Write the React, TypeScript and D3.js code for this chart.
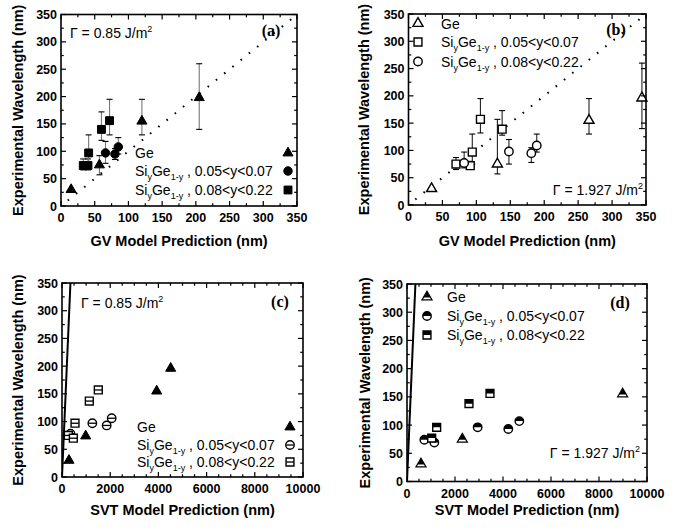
import React from "react";
import * as d3 from "d3";

// ---------- data ----------
const yTickValues = [0, 50, 100, 150, 200, 250, 300, 350];
const gvTickValues = [0, 50, 100, 150, 200, 250, 300, 350];
const svtTickValues = [0, 2000, 4000, 6000, 8000, 10000];

const rangeLow = "0.05<y<0.07";
const rangeHigh = "0.08<y<0.22";
const gammaLow = "0.85";
const gammaHigh = "1.927";

// diagonal (experiment = prediction)
const diagDottedX = [10, 350];
const diagDottedY = [10, 350];
const diagSolidX = [0, 350];
const diagSolidY = [0, 350];

// Panel (a): GV model, Γ = 0.85
const aGeX = [15, 57, 120, 205];
const aGeY = [30, 75, 155, 198];
const aGeLo = [30, 57, 130, 140];
const aGeHi = [30, 92, 195, 260];
const aLowX = [66, 80, 85];
const aLowY = [97, 95, 108];
const aLowLo = [78, 85, 95];
const aLowHi = [118, 105, 125];
const aHighX = [33, 40, 41, 60, 72];
const aHighY = [74, 74, 97, 140, 156];
const aHighLo = [66, 66, 75, 120, 130];
const aHighHi = [86, 86, 130, 172, 195];

// Panel (b): GV model, Γ = 1.927
const bGeX = [34, 131, 266, 344];
const bGeY = [30, 75, 155, 196];
const bGeLo = [30, 57, 130, 140];
const bGeHi = [30, 157, 195, 260];
const bSqX = [70, 91, 94, 106, 138];
const bSqY = [75, 72, 97, 157, 139];
const bSqLo = [65, 66, 75, 132, 128];
const bSqHi = [87, 80, 130, 195, 173];
const bCirX = [82, 148, 181, 189];
const bCirY = [77, 98, 95, 109];
const bCirLo = [68, 75, 78, 97];
const bCirHi = [97, 120, 105, 130];

// Panel (c): SVT model, Γ = 0.85
const cGeX = [290, 983, 3929, 4510];
const cGeY = [30, 74, 155, 196];
const cLowX = [350, 1259, 1853, 2061];
const cLowY = [78, 97, 93, 106];
const cHighX = [262, 470, 540, 1133, 1506];
const cHighY = [75, 70, 97, 137, 157];

// Panel (d): SVT model, Γ = 1.927
const dGeX = [583, 2305, 8986];
const dGeY = [31, 75, 155];
const dLowX = [722, 1139, 2944, 4221, 4680];
const dLowY = [74, 69, 96, 93, 107];
const dHighX = [1028, 1236, 2583, 3458];
const dHighY = [77, 96, 138, 156];

// ---------- rendering ----------
const FONT = "'Liberation Sans', Arial, Helvetica, sans-serif";
const SERIF = "'Liberation Serif', 'Times New Roman', serif";

type Shape = "triangle" | "circle" | "square";
type Style = "filled" | "open" | "bar" | "half" | "tri";

interface Series {
  x: number[];
  y: number[];
  lo?: number[];
  hi?: number[];
  shape: Shape;
  style: Style;
}

const symbolSize: Record<Shape, number> = { triangle: 44, circle: 56, square: 62 };
const symbolType: Record<Shape, d3.SymbolType> = {
  triangle: d3.symbolTriangle,
  circle: d3.symbolCircle,
  square: d3.symbolSquare,
};

function Marker({ shape, style, cx, cy }: { shape: Shape; style: Style; cx: number; cy: number }) {
  const d = d3.symbol().type(symbolType[shape]).size(symbolSize[shape])() as string;
  const tf = `translate(${cx},${cy})`;
  if (style === "filled") {
    return <path d={d} transform={tf} fill="#000" stroke="#000" strokeWidth={1} />;
  }
  if (style === "open") {
    return <path d={d} transform={tf} fill="#fff" stroke="#000" strokeWidth={1.4} />;
  }
  const half = Math.sqrt(symbolSize[shape]) / 2;
  if (style === "bar") {
    return (
      <g transform={tf}>
        <path d={d} fill="#fff" stroke="#000" strokeWidth={1.4} />
        <line x1={-half} x2={half} y1={0} y2={0} stroke="#000" strokeWidth={1.3} />
      </g>
    );
  }
  if (style === "tri") {
    return (
      <g transform={tf}>
        <path d={d} fill="#fff" stroke="#000" strokeWidth={1.2} />
        <path d={d} fill="#000" clipPath="url(#clipTop70)" />
      </g>
    );
  }
  // half: top half filled
  return (
    <g transform={tf}>
      <path d={d} fill="#fff" stroke="#000" strokeWidth={1.4} />
      <path d={d} fill="#000" clipPath="url(#clipTopHalf)" />
    </g>
  );
}

function SiGe({ x, y, range }: { x: number; y: number; range: string }) {
  return (
    <text x={x} y={y} fontFamily={FONT} fontSize={14}>
      Si
      <tspan dy={4} fontSize={9}>y</tspan>
      <tspan dy={-4}>Ge</tspan>
      <tspan dy={4} fontSize={9}>1-y</tspan>
      <tspan dy={-4}>{" , " + range}</tspan>
    </text>
  );
}

function Gamma({ x, y, value, anchor }: { x: number; y: number; value: string; anchor: "start" | "end" }) {
  return (
    <text x={x} y={y} fontFamily={FONT} fontSize={14} textAnchor={anchor}>
      {"Γ = " + value + " J/m"}
      <tspan dy={-6} fontSize={9}>2</tspan>
    </text>
  );
}

interface LegendRow {
  label: "ge" | "low" | "high";
  shape: Shape;
  style: Style;
}

interface PanelProps {
  box: { left: number; right: number; top: number; bottom: number };
  xDomain: [number, number];
  xTicks: number[];
  xMinorStep: number;
  xTitle: string;
  yTitleX: number;
  xTitleY: number;
  series: Series[];
  diag: { x: number[]; y: number[]; dotted: boolean };
  legend: { symX: number; textX: number; rows: number[]; items: LegendRow[] };
  gamma: { x: number; y: number; value: string; anchor: "start" | "end" };
  letter: { x: number; y: number; text: string };
  errColor: string;
}

function Panel(p: PanelProps) {
  const { box } = p;
  const x = d3.scaleLinear().domain(p.xDomain).range([box.left, box.right]);
  const y = d3.scaleLinear().domain([0, 350]).range([box.bottom, box.top]);
  const xMinor = d3.range(p.xDomain[0], p.xDomain[1] + 1e-6, p.xMinorStep);
  const yMinor = d3.range(0, 350.001, 25);
  const line = d3.line<number>().x((_, i) => x(p.diag.x[i])).y((_, i) => y(p.diag.y[i]));
  const fmt = d3.format("d");
  const M = 5, m = 2.8;
  const yTitleY = (box.top + box.bottom) / 2;
  const xTitleX = (box.left + box.right) / 2;

  return (
    <g>
      <defs>
        <clipPath id={"plot" + p.letter.text}>
          <rect x={box.left} y={box.top} width={box.right - box.left} height={box.bottom - box.top} />
        </clipPath>
      </defs>
      <path
        d={line(p.diag.x) as string}
        fill="none"
        stroke="#000"
        strokeWidth={p.diag.dotted ? 2 : 2}
        strokeDasharray={p.diag.dotted ? "1.6 9" : undefined}
        clipPath={`url(#plot${p.letter.text})`}
      />
      {p.series.map((s, si) =>
        s.lo
          ? s.x.map((xv, i) => {
              const lo = s.lo![i], hi = s.hi![i];
              if (hi - lo < 1) return null;
              const px = x(xv);
              return (
                <g key={`e${si}-${i}`} stroke={p.errColor} strokeWidth={1.1}>
                  <line x1={px} x2={px} y1={y(lo)} y2={y(hi)} />
                  <line x1={px - 3} x2={px + 3} y1={y(lo)} y2={y(lo)} stroke="#000" />
                  <line x1={px - 3} x2={px + 3} y1={y(hi)} y2={y(hi)} stroke="#000" />
                </g>
              );
            })
          : null
      )}
      {p.series.map((s, si) =>
        s.x.map((xv, i) => <Marker key={`m${si}-${i}`} shape={s.shape} style={s.style} cx={x(xv)} cy={y(s.y[i])} />)
      )}
      <rect
        x={box.left}
        y={box.top}
        width={box.right - box.left}
        height={box.bottom - box.top}
        fill="none"
        stroke="#000"
        strokeWidth={1.6}
      />
      {/* ticks */}
      <g stroke="#000" strokeWidth={1.2}>
        {xMinor.map((v) => {
          const major = p.xTicks.includes(v);
          const L = major ? M : m;
          return (
            <g key={"xt" + v}>
              <line x1={x(v)} x2={x(v)} y1={box.bottom} y2={box.bottom - L} />
              <line x1={x(v)} x2={x(v)} y1={box.top} y2={box.top + L} />
            </g>
          );
        })}
        {yMinor.map((v) => {
          const major = yTickValues.includes(v);
          const L = major ? M : m;
          return (
            <g key={"yt" + v}>
              <line x1={box.left} x2={box.left + L} y1={y(v)} y2={y(v)} />
              <line x1={box.right} x2={box.right - L} y1={y(v)} y2={y(v)} />
            </g>
          );
        })}
      </g>
      {yTickValues.map((v) => (
        <text key={"yl" + v} x={box.left - 4} y={y(v) + 4.5} textAnchor="end" fontFamily={FONT} fontSize={12.5} fontWeight="bold">
          {fmt(v)}
        </text>
      ))}
      {p.xTicks.map((v) => (
        <text key={"xl" + v} x={x(v)} y={box.bottom + 16} textAnchor="middle" fontFamily={FONT} fontSize={12.5} fontWeight="bold">
          {fmt(v)}
        </text>
      ))}
      <text x={xTitleX} y={p.xTitleY} textAnchor="middle" fontFamily={FONT} fontSize={14.5} fontWeight="bold">
        {p.xTitle}
      </text>
      <text
        transform={`translate(${p.yTitleX},${yTitleY}) rotate(-90)`}
        textAnchor="middle"
        dy={5}
        fontFamily={FONT}
        fontSize={14.5}
        fontWeight="bold"
      >
        Experimental Wavelength (nm)
      </text>
      {/* legend */}
      {p.legend.items.map((it, i) => (
        <g key={"lg" + i}>
          <Marker shape={it.shape} style={it.style} cx={p.legend.symX} cy={p.legend.rows[i]} />
          {it.label === "ge" ? (
            <text x={p.legend.textX} y={p.legend.rows[i] + 5} fontFamily={FONT} fontSize={14}>
              Ge
            </text>
          ) : (
            <SiGe x={p.legend.textX} y={p.legend.rows[i] + 5} range={it.label === "low" ? rangeLow : rangeHigh} />
          )}
        </g>
      ))}
      <Gamma {...p.gamma} />
      <text x={p.letter.x} y={p.letter.y} textAnchor="middle" fontFamily={SERIF} fontWeight="bold" fontSize={16}>
        {"(" + p.letter.text + ")"}
      </text>
    </g>
  );
}

export default function App() {
  return (
    <div style={{ position: "absolute", left: 0, top: 0 }}>
      <svg width={689} height={529} style={{ display: "block", background: "#fff" }}>
        <defs>
          <clipPath id="clipTopHalf" clipPathUnits="objectBoundingBox">
            <rect x={-0.2} y={-0.2} width={1.4} height={0.7} />
          </clipPath>
          <clipPath id="clipTop70" clipPathUnits="objectBoundingBox">
            <rect x={-0.2} y={-0.2} width={1.4} height={0.92} />
          </clipPath>
        </defs>
        <Panel
          box={{ left: 61, right: 297, top: 14.5, bottom: 206 }}
          xDomain={[0, 350]}
          xTicks={gvTickValues}
          xMinorStep={25}
          xTitle="GV Model Prediction (nm)"
          yTitleX={18}
          xTitleY={246}
          series={[
            { x: aGeX, y: aGeY, lo: aGeLo, hi: aGeHi, shape: "triangle", style: "filled" },
            { x: aLowX, y: aLowY, lo: aLowLo, hi: aLowHi, shape: "circle", style: "filled" },
            { x: aHighX, y: aHighY, lo: aHighLo, hi: aHighHi, shape: "square", style: "filled" },
          ]}
          diag={{ x: diagDottedX, y: diagDottedY, dotted: true }}
          legend={{
            symX: 288,
            textX: 135,
            rows: [153, 171, 190],
            items: [
              { label: "ge", shape: "triangle", style: "filled" },
              { label: "low", shape: "circle", style: "filled" },
              { label: "high", shape: "square", style: "filled" },
            ],
          }}
          gamma={{ x: 70, y: 38, value: gammaLow, anchor: "start" }}
          letter={{ x: 271, y: 36, text: "a" }}
          errColor="#777"
        />
        <Panel
          box={{ left: 408.5, right: 646, top: 14, bottom: 205 }}
          xDomain={[0, 350]}
          xTicks={gvTickValues}
          xMinorStep={25}
          xTitle="GV Model Prediction (nm)"
          yTitleX={364}
          xTitleY={246}
          series={[
            { x: bGeX, y: bGeY, lo: bGeLo, hi: bGeHi, shape: "triangle", style: "open" },
            { x: bSqX, y: bSqY, lo: bSqLo, hi: bSqHi, shape: "square", style: "open" },
            { x: bCirX, y: bCirY, lo: bCirLo, hi: bCirHi, shape: "circle", style: "open" },
          ]}
          diag={{ x: diagDottedX, y: diagDottedY, dotted: true }}
          legend={{
            symX: 418,
            textX: 441,
            rows: [23.5, 42, 61.5],
            items: [
              { label: "ge", shape: "triangle", style: "open" },
              { label: "low", shape: "square", style: "open" },
              { label: "high", shape: "circle", style: "open" },
            ],
          }}
          gamma={{ x: 643, y: 195, value: gammaHigh, anchor: "end" }}
          letter={{ x: 616, y: 35, text: "b" }}
          errColor="#222"
        />
        <Panel
          box={{ left: 62, right: 303, top: 283, bottom: 477 }}
          xDomain={[0, 10000]}
          xTicks={svtTickValues}
          xMinorStep={500}
          xTitle="SVT Model Prediction (nm)"
          yTitleX={18}
          xTitleY={515}
          series={[
            { x: cGeX, y: cGeY, shape: "triangle", style: "filled" },
            { x: cLowX, y: cLowY, shape: "circle", style: "bar" },
            { x: cHighX, y: cHighY, shape: "square", style: "bar" },
          ]}
          diag={{ x: diagSolidX, y: diagSolidY, dotted: false }}
          legend={{
            symX: 290,
            textX: 137,
            rows: [427, 445, 462],
            items: [
              { label: "ge", shape: "triangle", style: "filled" },
              { label: "low", shape: "circle", style: "bar" },
              { label: "high", shape: "square", style: "bar" },
            ],
          }}
          gamma={{ x: 81, y: 308, value: gammaLow, anchor: "start" }}
          letter={{ x: 280, y: 307, text: "c" }}
          errColor="#222"
        />
        <Panel
          box={{ left: 407, right: 647, top: 284, bottom: 481.5 }}
          xDomain={[0, 10000]}
          xTicks={svtTickValues}
          xMinorStep={500}
          xTitle="SVT Model Prediction (nm)"
          yTitleX={365}
          xTitleY={515}
          series={[
            { x: dGeX, y: dGeY, shape: "triangle", style: "tri" },
            { x: dLowX, y: dLowY, shape: "circle", style: "half" },
            { x: dHighX, y: dHighY, shape: "square", style: "half" },
          ]}
          diag={{ x: diagSolidX, y: diagSolidY, dotted: false }}
          legend={{
            symX: 427,
            textX: 447,
            rows: [297, 316, 335],
            items: [
              { label: "ge", shape: "triangle", style: "tri" },
              { label: "low", shape: "circle", style: "half" },
              { label: "high", shape: "square", style: "half" },
            ],
          }}
          gamma={{ x: 640, y: 458, value: gammaHigh, anchor: "end" }}
          letter={{ x: 620, y: 308, text: "d" }}
          errColor="#222"
        />
      </svg>
    </div>
  );
}
